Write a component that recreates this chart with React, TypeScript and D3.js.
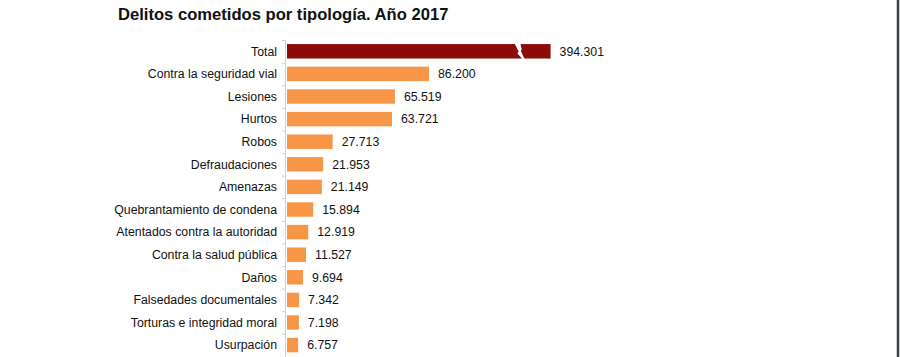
import React from "react";
import * as d3 from "d3";

const categories = [
  "Total",
  "Contra la seguridad vial",
  "Lesiones",
  "Hurtos",
  "Robos",
  "Defraudaciones",
  "Amenazas",
  "Quebrantamiento de condena",
  "Atentados contra la autoridad",
  "Contra la salud pública",
  "Daños",
  "Falsedades documentales",
  "Torturas e integridad moral",
  "Usurpación",
];
const values = [394301, 86200, 65519, 63721, 27713, 21953, 21149, 15894, 12919, 11527, 9694, 7342, 7198, 6757];
const valueLabels = ["394.301", "86.200", "65.519", "63.721", "27.713", "21.953", "21.149", "15.894", "12.919", "11.527", "9.694", "7.342", "7.198", "6.757"];
const displayCap = 160000; // the broken Total bar is drawn up to this value
const breakValue = 141000; // where the break mark sits on the Total bar
const title = "Delitos cometidos por tipología. Año 2017";

const W = 900;
const H = 357;

export default function App() {
  const x = d3.scaleLinear().domain([0, 86200]).range([287, 429]);
  const y = d3
    .scaleBand<string>()
    .domain(categories)
    .range([40, 40 + categories.length * 22.6])
    .paddingInner(0.36)
    .paddingOuter(0.18);
  const step = y.step();
  const font = "'Liberation Sans', Arial, sans-serif";

  return (
    <svg
      width={W}
      height={H}
      style={{ position: "absolute", left: 0, top: 0, background: "#fff" }}
      fontFamily={font}
    >
      <rect x={0} y={0} width={W} height={H} fill="#fff" />
      <text x={118} y={20} fontSize={16.6} fontWeight="bold" fill="#111">
        {title}
      </text>
      <line x1={285.5} x2={285.5} y1={40} y2={H} stroke="#d0d0d0" strokeWidth={1} />
      {categories.map((c, i) => (
        <line
          key={"t" + i}
          x1={282}
          x2={285.5}
          y1={40 + i * step + 0.5}
          y2={40 + i * step + 0.5}
          stroke="#d0d0d0"
        />
      ))}
      {categories.map((c, i) => {
        const v = values[i];
        const broken = v > displayCap;
        const xe = x(Math.min(v, displayCap));
        const yt = y(c)!;
        const bh = y.bandwidth();
        const cy = yt + bh / 2;
        const bx = x(breakValue);
        const bot = yt + bh;
        const mid = yt + bh / 2;
        return (
          <g key={c}>
            <rect
              x={x(0)}
              y={yt}
              width={xe - x(0)}
              height={bh}
              fill={i === 0 ? "#8b0a0a" : "#f79646"}
            />
            {broken && (
              <polygon
                points={[
                  [bx - 5, yt - 1],
                  [bx + 1, yt - 1],
                  [bx + 2.5, mid - 1.5],
                  [bx + 1.5, mid - 0.5],
                  [bx + 5.5, bot + 1],
                  [bx + 3.5, bot + 1],
                  [bx - 2, mid + 2],
                  [bx - 0.5, mid + 0.5],
                ]
                  .map((p) => p.join(","))
                  .join(" ")}
                fill="#fff"
              />
            )}
            <text
              x={277}
              y={cy}
              dy="0.35em"
              textAnchor="end"
              fontSize={12.3}
              fill="#111"
            >
              {c}
            </text>
            <text x={xe + 9} y={cy} dy="0.35em" fontSize={12.3} fill="#111">
              {valueLabels[i]}
            </text>
          </g>
        );
      })}
      <line x1={898} x2={898} y1={0} y2={H} stroke="#3a3f44" strokeWidth={2.5} />
    </svg>
  );
}
